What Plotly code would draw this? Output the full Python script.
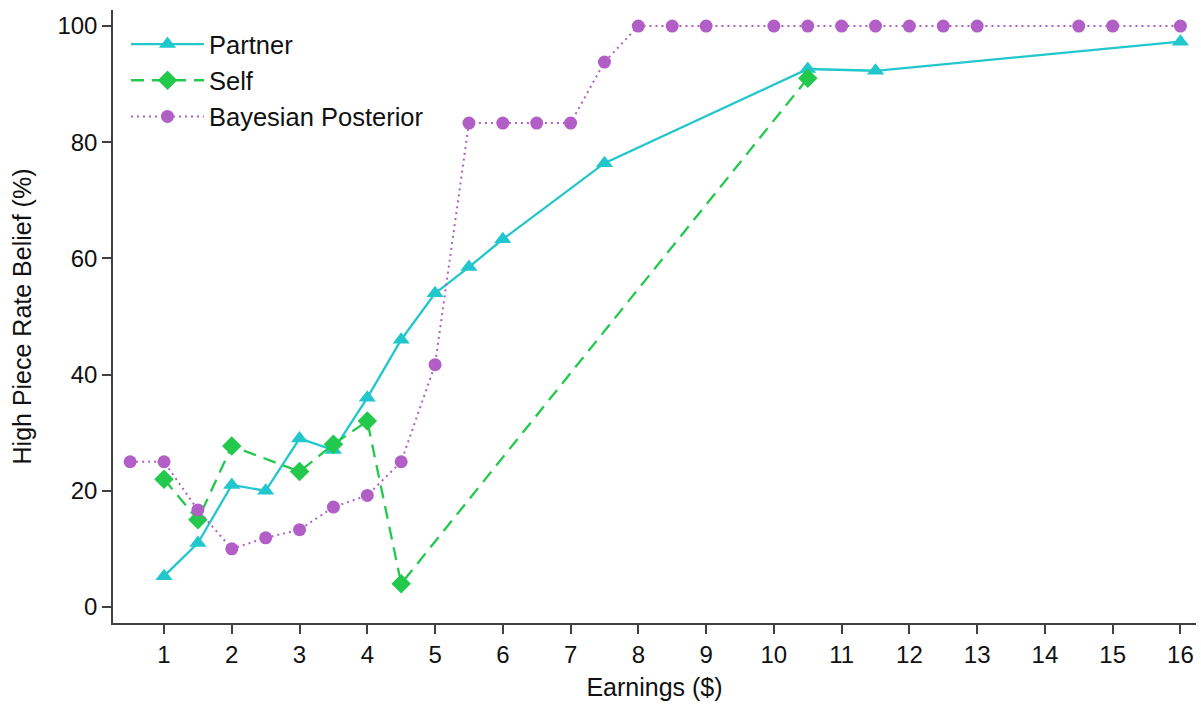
import plotly.graph_objects as go

# ---- data ----
partner_x = [1, 1.5, 2, 2.5, 3, 3.5, 4, 4.5, 5, 5.5, 6, 7.5, 10.5, 11.5, 16]
partner_y = [5.3, 11.0, 21.0, 20.0, 29.0, 27.0, 36.0, 46.0, 54.0, 58.5, 63.3, 76.4, 92.6, 92.3, 97.3]

self_x = [1, 1.5, 2, 3, 3.5, 4, 4.5, 10.5]
self_y = [22.0, 15.0, 27.7, 23.3, 28.0, 32.0, 4.0, 91.0]

bayes_x = [0.5, 1, 1.5, 2, 2.5, 3, 3.5, 4, 4.5, 5, 5.5, 6, 6.5, 7, 7.5,
           8, 8.5, 9, 10, 10.5, 11, 11.5, 12, 12.5, 13, 14.5, 15, 16]
bayes_y = [25.0, 25.0, 16.7, 10.0, 11.9, 13.3, 17.2, 19.2, 25.0, 41.7, 83.3, 83.3, 83.3, 83.3, 93.8,
           100, 100, 100, 100, 100, 100, 100, 100, 100, 100, 100, 100, 100]

x_ticks = list(range(1, 17))
y_ticks = [0, 20, 40, 60, 80, 100]

CYAN = "#21C7CC"
GREEN = "#22C94C"
PURPLE = "#B25EC7"
FONT = "Liberation Sans, Arial, sans-serif"

fig = go.Figure()
fig.add_trace(go.Scatter(
    x=partner_x, y=partner_y, mode="lines+markers", name="Partner", legendgroup="a",
    line=dict(color=CYAN, width=2.3),
    marker=dict(symbol="triangle-up", size=15, color=CYAN)))
fig.add_trace(go.Scatter(
    x=self_x, y=self_y, mode="lines+markers", name="Self", legendgroup="b",
    line=dict(color=GREEN, width=2.3, dash="13px,8px"),
    marker=dict(symbol="diamond", size=15, color=GREEN)))
fig.add_trace(go.Scatter(
    x=bayes_x, y=bayes_y, mode="lines+markers", name="Bayesian Posterior", legendgroup="c",
    line=dict(color=PURPLE, width=2, dash="2px,4px"),
    marker=dict(symbol="circle", size=13, color=PURPLE)))

axis_common = dict(
    showline=True, linecolor="#404040", linewidth=1.5,
    ticks="outside", ticklen=9, tickwidth=1.5, tickcolor="#404040",
    showgrid=False, zeroline=False, mirror=False,
    tickfont=dict(family=FONT, size=24, color="#111111"),
)

fig.update_xaxes(
    range=[0.247, 16.23], tickvals=x_ticks, ticktext=[str(t) for t in x_ticks],
    title=dict(text="Earnings ($)", font=dict(family=FONT, size=25, color="#111111"), standoff=12),
    **axis_common)
fig.update_yaxes(
    range=[-2.76, 102.76], tickvals=y_ticks, ticktext=[str(t) for t in y_ticks],
    title=dict(text="High Piece Rate Belief (%)", font=dict(family=FONT, size=25, color="#111111"), standoff=19),
    **axis_common)

fig.update_layout(
    width=1201, height=705,
    margin=dict(l=113, r=5, t=10, b=82),
    paper_bgcolor="white", plot_bgcolor="white",
    font=dict(family=FONT, color="#111111"),
    legend=dict(
        x=0.012, y=0.982, xanchor="left", yanchor="top",
        font=dict(family=FONT, size=25.5, color="#111111"),
        bgcolor="rgba(0,0,0,0)", borderwidth=0,
        itemwidth=73, tracegroupgap=0,
    ),
)

fig.write_html("out.html")
